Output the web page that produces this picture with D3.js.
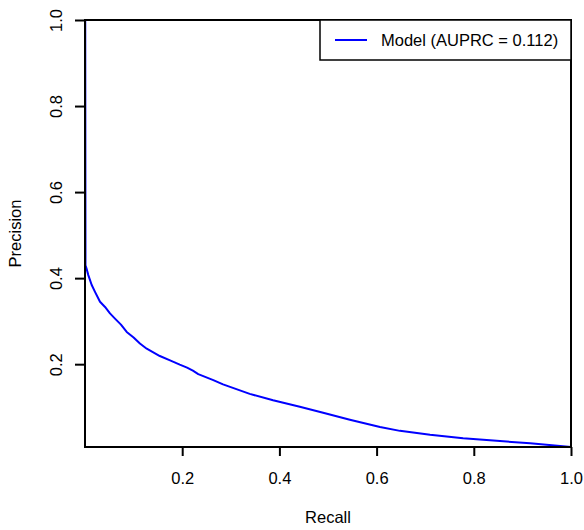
<!DOCTYPE html>
<html>
<head>
<meta charset="utf-8">
<script src="https://cdn.jsdelivr.net/npm/d3@7"></script>
<style>
  body { margin: 0; background: #fff; }
  text { font-family: "Liberation Sans", Arial, sans-serif; fill: #000; }
</style>
</head>
<body>
<div id="chart"></div>
<script>
'use strict';

// precision-recall curve
var recall = [0.0005, 0.0010, 0.0030, 0.0068, 0.0138, 0.0206, 0.0309, 0.0412, 0.0514, 0.0617,
  0.0740, 0.0858, 0.1000, 0.1130, 0.1270, 0.1540, 0.1750, 0.1950, 0.2100, 0.2220, 0.2330,
  0.2640, 0.2840, 0.3390, 0.3870, 0.4420, 0.4900, 0.5450, 0.6070, 0.6480, 0.7100, 0.7780,
  0.8470, 0.9160, 1.0000];
var precision = [1.000, 0.430, 0.423, 0.407, 0.384, 0.368, 0.345, 0.333, 0.318, 0.306,
  0.292, 0.275, 0.262, 0.248, 0.236, 0.219, 0.209, 0.199, 0.192, 0.185, 0.177,
  0.163, 0.153, 0.131, 0.116, 0.101, 0.087, 0.071, 0.054, 0.045, 0.036, 0.028,
  0.022, 0.016, 0.0075];

var xTicks = [0.2, 0.4, 0.6, 0.8, 1.0];
var yTicks = [0.2, 0.4, 0.6, 0.8, 1.0];
var legendLabel = "Model (AUPRC = 0.112)";
var xTitle = "Recall", yTitle = "Precision";

var lineColor = "#0000ff";
var fontSize = "16.5px";

var el_width = 584, el_height = 530;
var margin = {top: 20, right: 13, bottom: 83, left: 85},
  width = el_width - margin.left - margin.right,
  height = el_height - margin.top - margin.bottom;

var svg = d3.select("#chart").append("svg")
  .attr("width", el_width)
  .attr("height", el_height)
  .append("g")
  .attr("transform", "translate(" + margin.left + "," + margin.top + ")");

var data = recall.map((r, i) => ({r: r, p: precision[i]}));

var x = d3.scaleLinear().domain([0, 1]).range([0, width]),
  y = d3.scaleLinear().domain([d3.min(precision), 1]).range([height, 0]);

var line = d3.line()
  .x((d) => x(d.r))
  .y((d) => y(d.p));

svg.append("path")
  .datum(data)
  .attr("d", line)
  .attr("fill", "none")
  .attr("stroke", lineColor)
  .attr("stroke-width", 2)
  .attr("stroke-linejoin", "round");

// box
svg.append("rect")
  .attr("x", 0).attr("y", 0)
  .attr("width", width).attr("height", height)
  .attr("fill", "none")
  .attr("stroke", "#000")
  .attr("stroke-width", 2);

var xAxis = svg.append("g")
  .attr("transform", "translate(0," + height + ")")
  .call(d3.axisBottom(x).tickValues(xTicks).tickSize(9).tickPadding(16).tickFormat(d3.format(".1f")));
xAxis.select(".domain").remove();
xAxis.selectAll("line").attr("stroke-width", 2);
xAxis.selectAll("text").style("font-size", fontSize).attr("fill", "#000");

var yAxis = svg.append("g")
  .call(d3.axisLeft(y).tickValues(yTicks).tickSize(10).tickFormat(d3.format(".1f")));
yAxis.select(".domain").remove();
yAxis.selectAll("line").attr("stroke-width", 2);
yAxis.selectAll("text")
  .style("font-size", fontSize)
  .attr("fill", "#000")
  .attr("x", null).attr("dy", null)
  .attr("text-anchor", "middle")
  .attr("dominant-baseline", "central")
  .attr("transform", "translate(-29,0) rotate(-90)");

svg.append("text")
  .attr("x", width / 2)
  .attr("y", height + 76)
  .attr("text-anchor", "middle")
  .style("font-size", fontSize)
  .text(xTitle);

svg.append("text")
  .attr("transform", "translate(" + (-70) + "," + (height / 2) + ") rotate(-90)")
  .attr("text-anchor", "middle")
  .attr("dominant-baseline", "central")
  .style("font-size", fontSize)
  .text(yTitle);

// legend, top right corner
var legend = svg.append("g")
  .attr("transform", "translate(" + (width - 251) + ",0)");
legend.append("rect")
  .attr("width", 251).attr("height", 40)
  .attr("fill", "#fff")
  .attr("stroke", "#000")
  .attr("stroke-width", 1.5);
legend.append("line")
  .attr("x1", 15).attr("x2", 47)
  .attr("y1", 20).attr("y2", 20)
  .attr("stroke", lineColor)
  .attr("stroke-width", 2);
legend.append("text")
  .attr("x", 61)
  .attr("y", 20)
  .attr("dominant-baseline", "central")
  .style("font-size", fontSize)
  .text(legendLabel);
</script>
</body>
</html>
